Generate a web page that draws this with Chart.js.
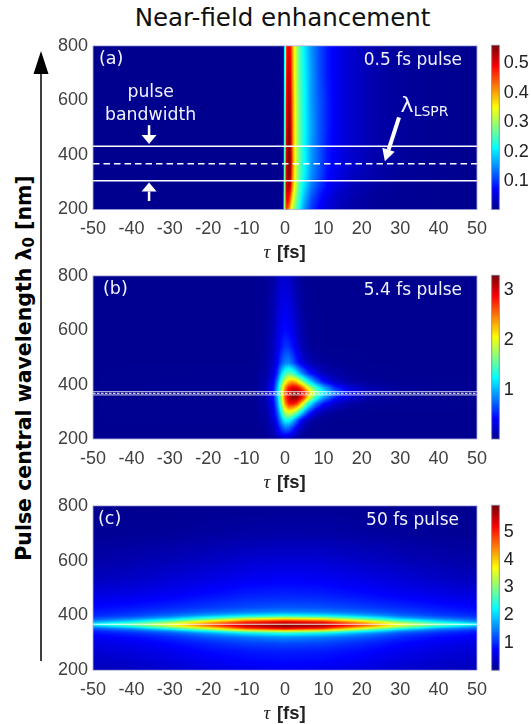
<!DOCTYPE html>
<html><head><meta charset="utf-8">
<script src="https://cdn.jsdelivr.net/npm/chart.js@4"></script>
<style>
html,body{margin:0;padding:0;background:#fff;width:531px;height:724px;overflow:hidden}
canvas{position:absolute}
#title{position:absolute;left:0;width:565px;top:3px;text-align:center;font:24.5px "DejaVu Sans";color:#111;white-space:nowrap}
#ylabel{position:absolute;left:24px;top:368px;transform:translate(-50%,-50%) rotate(-90deg);font:bold 20.5px "DejaVu Sans";color:#000;white-space:nowrap}
#ylabel sub{font-size:15px;vertical-align:-3px;line-height:0}
svg{position:absolute;left:0;top:0}
</style></head><body>
<div id="title">Near-field enhancement</div>
<div id="ylabel">Pulse central wavelength λ<sub>0</sub> [nm]</div>
<svg width="60" height="724"><line x1="41" y1="70" x2="41" y2="661" stroke="#000" stroke-width="1.5"/><polygon points="41,51 33.5,74 48.5,74" fill="#000"/></svg>
<script>
const xTicks=[-50,-40,-30,-20,-10,0,10,20,30,40,50];
const yTicks=[200,400,600,800];
const jetStops=[[0,0,0,143],[0.125,0,0,255],[0.375,0,255,255],[0.625,255,255,0],[0.875,255,0,0],[1,128,0,0]];

const tauA=[-50,-1,-0.6,-0.3,0,0.3,0.6,1,1.4,1.8,2.3,3.2,4.7,7,9,11,14,18,24,30,40,50];
const lambdaA=[800,700,600,500,430,375,330,290,260,230,200];
const valuesA=[
[.004,.004,.012,.09,.30,.44,.49,.50,.49,.43,.37,.29,.215,.15,.115,.085,.06,.04,.02,.012,.006,.004],
[.004,.004,.012,.10,.31,.45,.51,.52,.50,.44,.37,.29,.22,.155,.115,.085,.06,.04,.02,.012,.006,.004],
[.004,.004,.014,.11,.32,.47,.53,.54,.52,.45,.38,.295,.225,.155,.12,.09,.06,.04,.02,.012,.006,.004],
[.004,.004,.015,.12,.33,.48,.54,.555,.53,.46,.38,.30,.225,.16,.12,.09,.06,.04,.02,.012,.006,.004],
[.004,.004,.016,.13,.34,.49,.55,.56,.54,.46,.38,.30,.225,.155,.12,.085,.06,.04,.02,.012,.006,.004],
[.004,.004,.017,.14,.35,.50,.555,.56,.545,.47,.38,.30,.225,.155,.12,.085,.06,.04,.02,.012,.006,.004],
[.004,.004,.018,.15,.36,.50,.55,.555,.54,.45,.38,.295,.22,.15,.115,.08,.055,.035,.018,.01,.006,.004],
[.004,.004,.02,.16,.37,.50,.54,.54,.52,.44,.37,.285,.21,.14,.105,.075,.05,.03,.015,.009,.005,.004],
[.004,.004,.022,.17,.37,.49,.52,.51,.47,.40,.35,.275,.195,.125,.09,.065,.04,.025,.012,.008,.005,.004],
[.004,.004,.025,.18,.37,.47,.49,.47,.42,.36,.32,.26,.18,.11,.08,.055,.035,.02,.01,.007,.005,.004],
[.004,.004,.03,.20,.38,.45,.45,.42,.37,.33,.30,.24,.165,.10,.07,.05,.03,.018,.009,.006,.005,.004]];

const tauB=[-50,-8,-5,-3,-2,-1,0,1,2,3,4,5,6,8,10,13,17,22,30,50];
const lambdaB=[800,700,600,540,480,440,410,390,370,350,330,300,270,245,220,205,200];
const valuesB=[
[.04,.04,.06,.12,.20,.26,.28,.24,.18,.12,.08,.05,.04,.04,.04,.04,.04,.04,.04,.04],
[.04,.04,.07,.15,.25,.33,.37,.34,.26,.18,.12,.07,.05,.04,.04,.04,.04,.04,.04,.04],
[.04,.04,.08,.18,.30,.42,.47,.44,.36,.26,.17,.11,.07,.05,.04,.04,.04,.04,.04,.04],
[.04,.04,.09,.20,.34,.50,.60,.58,.48,.34,.22,.14,.09,.06,.04,.04,.04,.04,.04,.04],
[.04,.04,.10,.24,.42,.68,.85,.88,.74,.55,.40,.28,.20,.12,.08,.06,.05,.04,.04,.04],
[.04,.05,.12,.32,.60,1.10,1.45,1.60,1.50,1.25,1.00,.80,.60,.35,.20,.12,.07,.05,.04,.04],
[.04,.05,.15,.42,.85,1.45,2.00,2.30,2.40,2.25,1.95,1.60,1.30,.85,.50,.25,.12,.07,.05,.04],
[.04,.06,.17,.50,1.00,1.70,2.40,2.80,2.95,2.90,2.70,2.35,1.95,1.40,1.00,.55,.28,.14,.07,.04],
[.04,.06,.17,.52,1.05,1.80,2.60,3.00,3.20,3.29,3.15,2.85,2.45,1.70,1.25,.80,.40,.20,.09,.04],
[.04,.06,.16,.50,1.00,1.75,2.60,3.00,3.25,3.20,2.95,2.60,2.05,1.35,.90,.50,.25,.12,.06,.04],
[.04,.05,.14,.44,.90,1.60,2.40,2.80,2.85,2.70,2.35,1.85,1.40,.85,.50,.25,.12,.07,.05,.04],
[.04,.05,.12,.36,.72,1.28,1.90,2.05,1.95,1.70,1.35,1.00,.70,.30,.15,.08,.05,.04,.04,.04],
[.04,.05,.10,.28,.55,.95,1.30,1.32,1.10,.80,.52,.32,.20,.09,.05,.04,.04,.04,.04,.04],
[.04,.04,.08,.22,.40,.68,.88,.85,.66,.45,.28,.16,.09,.05,.04,.04,.04,.04,.04,.04],
[.04,.04,.07,.16,.28,.44,.54,.50,.38,.24,.14,.08,.05,.04,.04,.04,.04,.04,.04,.04],
[.04,.04,.05,.10,.15,.24,.30,.27,.20,.13,.08,.05,.04,.04,.04,.04,.04,.04,.04,.04],
[.04,.04,.04,.06,.09,.15,.19,.17,.11,.07,.05,.04,.04,.04,.04,.04,.04,.04,.04,.04]];

const tauC=[-50,-40,-30,-20,-10,0,10,20,30,40,50];
const lambdaC=[800,700,600,530,470,430,412,400,390,380,372,366,358,350,344,335,320,300,270,240,200];
const valuesC=[
[.04,.04,.05,.06,.07,.08,.08,.07,.06,.05,.04],
[.08,.09,.11,.14,.18,.20,.19,.15,.12,.09,.08],
[.20,.25,.31,.39,.47,.52,.49,.41,.32,.25,.19],
[.35,.42,.51,.61,.70,.75,.72,.63,.52,.42,.34],
[.60,.66,.75,.86,.96,1.00,.97,.87,.76,.66,.58],
[.80,.88,.98,1.10,1.20,1.25,1.22,1.12,1.00,.88,.78],
[.92,1.02,1.18,1.35,1.52,1.60,1.54,1.38,1.18,1.02,.90],
[1.0,1.15,1.4,1.75,2.1,2.3,2.15,1.8,1.4,1.15,1.0],
[1.2,1.45,1.85,2.5,3.2,3.5,3.3,2.6,1.85,1.45,1.2],
[1.55,2.0,2.7,3.6,4.6,5.0,4.7,3.7,2.7,2.0,1.5],
[2.0,2.6,3.4,4.4,5.3,5.6,5.4,4.5,3.4,2.6,2.0],
[2.3,2.9,3.7,4.8,5.7,5.94,5.8,4.9,3.7,2.9,2.3],
[1.6,2.2,3.1,4.2,5.3,5.7,5.4,4.3,3.1,2.2,1.6],
[1.2,1.5,2.2,3.2,4.5,5.0,4.6,3.3,2.2,1.5,1.2],
[1.0,1.25,1.65,2.4,3.3,3.7,3.4,2.5,1.65,1.25,1.0],
[.85,1.0,1.25,1.65,2.15,2.4,2.2,1.7,1.25,1.0,.85],
[.72,.82,1.0,1.25,1.45,1.60,1.48,1.27,1.0,.82,.72],
[.60,.68,.82,1.0,1.15,1.22,1.17,1.02,.82,.68,.60],
[.50,.57,.68,.82,.91,.95,.92,.83,.68,.57,.50],
[.42,.48,.58,.72,.81,.85,.82,.72,.58,.48,.42],
[.32,.37,.45,.56,.64,.68,.64,.56,.45,.37,.32]];

const rangeA=[0.004,0.561],rangeB=[0.035,3.29],rangeC=[0.04,5.94];
const barTicksA=[0.1,0.2,0.3,0.4,0.5],barTicksB=[1,2,3],barTicksC=[1,2,3,4,5];
const linesA=[432,305.5],centerA=[368];
const linesB=[374,362],centerB=[368];
const linesC=[368];

function jet(n){n=Math.max(0,Math.min(1,n));
  for(let i=1;i<jetStops.length;i++){const a=jetStops[i-1],b=jetStops[i];
    if(n<=b[0]){const t=(n-a[0])/(b[0]-a[0]);return [a[1]+t*(b[1]-a[1]),a[2]+t*(b[2]-a[2]),a[3]+t*(b[3]-a[3])];}}
  return [128,0,0];}
function locate(arr,v){
  const asc=arr[0]<arr[arr.length-1];
  for(let i=0;i<arr.length-1;i++){const p=arr[i],q=arr[i+1];
    if(asc?(v<=q):(v>=q)) return [i,Math.max(0,Math.min(1,(v-p)/(q-p)))];}
  return [arr.length-2,1];}
function sample(g,x,y){const [i,t]=locate(g.taus,x),[j,u]=locate(g.lams,y),z=g.vals;
  return (z[j][i]*(1-t)+z[j][i+1]*t)*(1-u)+(z[j+1][i]*(1-t)+z[j+1][i+1]*t)*u;}

const heatPlugin={id:'heat',beforeDatasetsDraw(c){
  const {left,top,width,height}=c.chartArea,W=Math.ceil(width),H=Math.ceil(height);
  const off=document.createElement('canvas');off.width=W;off.height=H;
  const ox=off.getContext('2d'),im=ox.createImageData(W,H);
  const g=c.options.plugins.heat;
  for(let py=0;py<H;py++){const ly=c.scales.y.getValueForPixel(top+(py+.5)*height/H);
    for(let px=0;px<W;px++){const lx=c.scales.x.getValueForPixel(left+(px+.5)*width/W);
      const v=sample(g,lx,ly),col=jet((v-g.range[0])/(g.range[1]-g.range[0])),k=(py*W+px)*4;
      im.data[k]=col[0];im.data[k+1]=col[1];im.data[k+2]=col[2];im.data[k+3]=255;}}
  ox.putImageData(im,0,0);
  c.ctx.drawImage(off,left,top,width,height);
},afterDraw(c){
  const ctx=c.ctx,a=c.chartArea,s=c.scales,g=c.options.plugins.heat;
  ctx.save();
  ctx.strokeStyle='rgba(175,175,225,.85)';ctx.lineWidth=1;ctx.strokeRect(a.left,a.top,a.width,a.height);
  const cy=a.bottom+43.5;
  ctx.fillStyle='#222';ctx.textBaseline='middle';ctx.textAlign='left';
  ctx.font='italic 19px "Liberation Serif"';ctx.fillText('τ',s.x.getPixelForValue(-5.6),cy);
  ctx.font='bold 18.5px "Liberation Sans"';ctx.fillText('[fs]',s.x.getPixelForValue(-2.1),cy);
  ctx.fillStyle='#f2f2ff';ctx.textBaseline='alphabetic';
  ctx.font='17.5px "DejaVu Sans"';ctx.textAlign='left';
  ctx.fillText(g.tag,a.left+g.tagX,a.top+18.5);
  ctx.font='17px "DejaVu Sans"';ctx.textAlign='right';ctx.fillText(g.label,a.left+g.labelX,a.top+19.5);
  if(g.notes){
    const X=v=>s.x.getPixelForValue(v),Y=v=>s.y.getPixelForValue(v);
    ctx.textAlign='center';ctx.font='17.3px "DejaVu Sans"';
    ctx.fillText('pulse',X(-35),67);ctx.fillText('bandwidth',X(-35),90);
    ctx.textAlign='left';ctx.font='22px "DejaVu Sans"';ctx.fillText('λ',X(30.1),82);
    ctx.font='14px "DejaVu Sans"';ctx.fillText('LSPR',X(33.5),86);
    arrow(ctx,X(-35.4),Y(509),X(-35.4),Y(440),2.5,15,9);
    arrow(ctx,X(-35.4),Y(231),X(-35.4),Y(299),2.5,15,9);
    arrow(ctx,X(29.7),Y(538),X(26),Y(377),4,13,12);
  }
  ctx.restore();
}};
function arrow(ctx,x1,y1,x2,y2,lw,hw,hl){
  const L=Math.hypot(x2-x1,y2-y1),ux=(x2-x1)/L,uy=(y2-y1)/L,bx=x2-ux*hl,by=y2-uy*hl;
  ctx.save();ctx.strokeStyle='#fff';ctx.fillStyle='#fff';ctx.lineWidth=lw;
  ctx.beginPath();ctx.moveTo(x1,y1);ctx.lineTo(bx,by);ctx.stroke();
  ctx.beginPath();ctx.moveTo(x2,y2);ctx.lineTo(bx-uy*hw/2,by+ux*hw/2);ctx.lineTo(bx+uy*hw/2,by-ux*hw/2);ctx.closePath();ctx.fill();
  ctx.restore();
}

function makeCanvas(x,y,w,h){const el=document.createElement('canvas');el.style.left=x+'px';el.style.top=y+'px';el.style.width=w+'px';el.style.height=h+'px';el.width=w;el.height=h;document.body.appendChild(el);return el;}
function lineSet(l,style){return Object.assign({type:'scatter',showLine:true,pointRadius:0,borderColor:'#fff',borderWidth:1.2,data:[{x:-50,y:l},{x:50,y:l}]},style);}
function heatPanel(p){
  const el=makeCanvas(0,p.canvasTop,531,p.canvasH);
  const cells=[];p.lams.forEach((l,j)=>p.taus.forEach((t,i)=>cells.push({x:t,y:l,v:p.vals[j][i]})));
  const ds=[{type:'scatter',data:cells,pointRadius:0,showLine:false}]
    .concat(p.solid.map(l=>lineSet(l,p.solidStyle||{})))
    .concat((p.dashed||[]).map(l=>lineSet(l,p.dashStyle)));
  new Chart(el,{type:'scatter',data:{datasets:ds},plugins:[heatPlugin],options:{
    responsive:false,animation:false,events:[],
    layout:{padding:{left:0,right:54,top:p.plotTop-p.canvasTop,bottom:0}},
    plugins:{legend:{display:false},tooltip:{enabled:false},
      heat:{taus:p.taus,lams:p.lams,vals:p.vals,range:p.range,tag:p.tag,tagX:p.tagX,label:p.label,labelX:p.labelX,notes:p.notes}},
    scales:{
      x:{type:'linear',min:-50,max:50,grid:{display:false,drawTicks:false},border:{display:false},
        afterBuildTicks(s){s.ticks=xTicks.map(v=>({value:v}));},
        afterFit(s){s.height=p.canvasTop+p.canvasH-p.plotBottom;},
        ticks:{color:'#404040',font:{family:'"Liberation Sans"',size:18},padding:9,maxRotation:0,autoSkip:false}},
      y:{type:'linear',min:200,max:800,grid:{display:false,drawTicks:false},border:{display:false},
        afterBuildTicks(s){s.ticks=yTicks.map(v=>({value:v}));},
        afterFit(s){s.width=93;},
        ticks:{color:'#404040',font:{family:'"Liberation Sans"',size:18},padding:5,autoSkip:false}}
    }}});
}
function colorBar(p){
  const el=makeCanvas(480,p.canvasTop,51,p.canvasH);
  const N=110,ds=[];
  for(let i=0;i<N;i++){const lo=p.range[0]+(p.range[1]-p.range[0])*i/N,hi=p.range[0]+(p.range[1]-p.range[0])*(i+1.5)/N;
    const c=jet((i+.5)/N);
    ds.push({data:[[lo,Math.min(hi,p.range[1])]],backgroundColor:`rgb(${c[0]|0},${c[1]|0},${c[2]|0})`,barPercentage:1,categoryPercentage:1,grouped:false,order:N-i});}
  new Chart(el,{type:'bar',data:{labels:['c'],datasets:ds},plugins:[{id:'barEdge',afterDraw(c){const a=c.chartArea,x=c.ctx;x.save();x.strokeStyle='rgba(120,120,170,.8)';x.lineWidth=1;x.strokeRect(a.left,a.top,a.width,a.height);x.restore();}}],options:{
    responsive:false,animation:false,events:[],
    layout:{padding:{left:11.7,right:0,top:p.plotTop-p.canvasTop,bottom:p.canvasTop+p.canvasH-p.plotBottom}},
    plugins:{legend:{display:false},tooltip:{enabled:false}},
    scales:{
      x:{display:false,grid:{display:false}},
      y:{position:'right',type:'linear',min:p.range[0],max:p.range[1],grid:{display:false,drawTicks:false},border:{display:false},
        afterBuildTicks(s){s.ticks=p.barTicks.map(v=>({value:v}));},
        afterFit(s){s.width=31.7;},
        ticks:{color:'#222',font:{family:'"Liberation Sans"',size:18},padding:4.5,autoSkip:false,callback:v=>String(v)}}
    }}});
}
const panels=[
 {canvasTop:30,canvasH:236,plotTop:43.5,plotBottom:209.5,taus:tauA,lams:lambdaA,vals:valuesA,range:rangeA,barTicks:barTicksA,tag:'(a)',tagX:6,label:'0.5 fs pulse',labelX:369,notes:true,
  solid:linesA,solidStyle:{borderWidth:1.5},dashed:centerA,dashStyle:{borderWidth:1.5,borderDash:[6.5,4]}},
 {canvasTop:260,canvasH:236,plotTop:273.7,plotBottom:439,taus:tauB,lams:lambdaB,vals:valuesB,range:rangeB,barTicks:barTicksB,tag:'(b)',tagX:10,label:'5.4 fs pulse',labelX:369,notes:false,
  solid:linesB,solidStyle:{borderWidth:1,borderColor:'rgba(255,255,255,.8)'},dashed:centerB,dashStyle:{borderWidth:1,borderDash:[2.5,1.5]}},
 {canvasTop:490,canvasH:234,plotTop:504.3,plotBottom:670.3,taus:tauC,lams:lambdaC,vals:valuesC,range:rangeC,barTicks:barTicksC,tag:'(c)',tagX:5,label:'50 fs pulse',labelX:366,notes:false,
  solid:linesC,solidStyle:{borderWidth:1,borderColor:'rgba(255,255,255,.9)'}}
];
panels.forEach(p=>{heatPanel(p);colorBar(p);});
</script>
</body></html>
